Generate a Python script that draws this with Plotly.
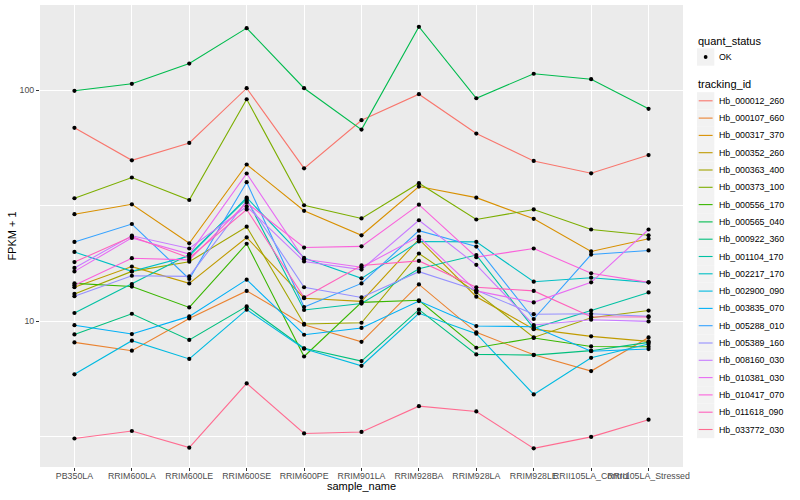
import plotly.graph_objects as go

categories = ["PB350LA", "RRIM600LA", "RRIM600LE", "RRIM600SE", "RRIM600PE",
              "RRIM901LA", "RRIM928BA", "RRIM928LA", "RRIM928LE",
              "RRII105LA_Control", "RRII105LA_Stressed"]

tracking_ids = ["Hb_000012_260", "Hb_000107_660", "Hb_000317_370", "Hb_000352_260",
                "Hb_000363_400", "Hb_000373_100", "Hb_000556_170", "Hb_000565_040",
                "Hb_000922_360", "Hb_001104_170", "Hb_002217_170", "Hb_002900_090",
                "Hb_003835_070", "Hb_005288_010", "Hb_005389_160", "Hb_008160_030",
                "Hb_010381_030", "Hb_010417_070", "Hb_011618_090", "Hb_033772_030"]

# FPKM + 1 per sample (same order as categories)
hb_000012_260 = [68.6, 49.6, 59.0, 101.8, 45.8, 74.0, 95.9, 64.8, 49.3, 43.6, 52.3]
hb_000107_660 = [8.08, 7.44, 10.26, 13.5, 9.64, 8.13, 14.4, 8.93, 7.14, 6.07, 8.49]
hb_000317_370 = [29.0, 32.0, 21.7, 47.6, 30.0, 23.5, 38.2, 34.2, 27.7, 20.0, 22.7]
hb_000352_260 = [14.0, 17.2, 14.55, 23.0, 12.55, 12.16, 22.6, 12.74, 9.22, 8.58, 8.16]
hb_000363_400 = [13.1, 16.4, 18.06, 25.6, 9.71, 9.83, 19.6, 13.3, 8.49, 10.33, 11.1]
hb_000373_100 = [34.0, 41.8, 33.4, 91.2, 31.7, 27.8, 39.5, 27.5, 30.4, 24.9, 23.5]
hb_000556_170 = [14.55, 14.1, 11.45, 21.6, 7.02, 12.04, 12.3, 7.66, 8.44, 7.76, 7.74]
hb_000565_040 = [99.2, 106.4, 130.2, 185.3, 101.8, 67.4, 187.8, 92.1, 117.6, 111.4, 82.9]
hb_000922_360 = [8.75, 10.75, 8.28, 11.57, 7.62, 6.71, 11.2, 7.17, 7.12, 7.44, 8.08]
hb_001104_170 = [10.83, 14.46, 19.4, 33.8, 11.16, 11.9, 16.85, 19.3, 9.29, 11.1, 13.3]
hb_002217_170 = [19.9, 16.4, 19.1, 34.2, 18.75, 15.3, 22.1, 22.0, 14.8, 15.4, 14.7]
hb_002900_090 = [5.88, 8.22, 6.85, 11.2, 7.59, 6.40, 10.8, 8.81, 4.81, 6.93, 7.95]
hb_003835_070 = [9.59, 8.78, 10.47, 15.1, 8.72, 9.33, 12.2, 9.51, 9.45, 7.40, 7.56]
hb_005288_010 = [22.0, 26.3, 15.2, 39.9, 11.5, 14.55, 24.6, 21.0, 10.2, 19.4, 20.2]
hb_005389_160 = [12.8, 15.7, 15.6, 33.2, 14.0, 12.65, 16.35, 13.6, 10.7, 10.75, 10.47]
hb_008160_030 = [16.97, 23.4, 20.6, 31.3, 18.1, 16.7, 27.3, 17.5, 9.61, 10.13, 9.96]
hb_010381_030 = [16.4, 22.9, 19.5, 43.5, 18.5, 17.1, 23.2, 13.5, 12.04, 14.7, 24.9]
hb_010417_070 = [14.3, 18.7, 18.4, 32.5, 20.8, 21.05, 31.9, 18.9, 20.6, 16.1, 14.7]
hb_011618_090 = [18.0, 23.2, 18.75, 30.4, 12.65, 17.4, 18.2, 14.0, 13.5, 10.44, 10.4]
hb_033772_030 = [3.10, 3.34, 2.83, 5.37, 3.26, 3.31, 4.28, 4.06, 2.81, 3.15, 3.74]

series = [hb_000012_260, hb_000107_660, hb_000317_370, hb_000352_260, hb_000363_400,
          hb_000373_100, hb_000556_170, hb_000565_040, hb_000922_360, hb_001104_170,
          hb_002217_170, hb_002900_090, hb_003835_070, hb_005288_010, hb_005389_160,
          hb_008160_030, hb_010381_030, hb_010417_070, hb_011618_090, hb_033772_030]

colors = ["#F8766D", "#EA8331", "#D89000", "#C09B00", "#A3A500", "#7CAE00", "#39B600",
          "#00BB4E", "#00BF7D", "#00C1A3", "#00BFC4", "#00BAE0", "#00B0F6", "#35A2FF",
          "#9590FF", "#C77CFF", "#E76BF3", "#FA62DB", "#FF62BC", "#FF6C91"]

quant_status = ["OK"]

y_ticks = [10, 100]
y_minor = [3.1623, 31.623]

FONT = "Liberation Sans, Arial, sans-serif"

# figure geometry (pixels)
W, H = 800, 500
ML, MR, MT, MB = 40, 117, 5, 33
PW, PH = W - ML - MR, H - MT - MB


def px(x):
    return (x - ML) / PW


def py(y):
    return (H - MB - y) / PH


fig = go.Figure()
for name, vals, col in zip(tracking_ids, series, colors):
    fig.add_trace(go.Scatter(
        x=categories, y=vals, mode="lines", name=name,
        line=dict(color=col, width=1.1), showlegend=False))

all_x, all_y = [], []
for vals in series:
    all_x += categories
    all_y += vals
fig.add_trace(go.Scatter(
    x=all_x, y=all_y, mode="markers", name="OK",
    marker=dict(color="black", size=4.2), showlegend=False))

# ---- ggplot-like legend drawn in paper coordinates ----
shapes, annotations = [], []
KX0, KW, KH = 697, 17.3, 17.3
TX = 717
STEP = 17.3


def key_box(cy):
    shapes.append(dict(type="rect", xref="paper", yref="paper",
                       x0=px(KX0), x1=px(KX0 + KW),
                       y0=py(cy + KH / 2), y1=py(cy - KH / 2),
                       fillcolor="#F2F2F2", line=dict(width=0), layer="above"))


def label(text, x, y, size, anchor="left"):
    annotations.append(dict(text=text, xref="paper", yref="paper",
                            x=px(x), y=py(y), xanchor=anchor, yanchor="middle",
                            showarrow=False, font=dict(size=size, color="black")))


label("quant_status", KX0 - 1, 40.7, 11)
for i, q in enumerate(quant_status):
    cy = 57.0 + i * STEP
    key_box(cy)
    r = 1.9
    shapes.append(dict(type="circle", xref="paper", yref="paper",
                       x0=px(KX0 + KW / 2 - r), x1=px(KX0 + KW / 2 + r),
                       y0=py(cy + r), y1=py(cy - r),
                       fillcolor="black", line=dict(width=0), layer="above"))
    label(q, TX, cy, 8.8)

label("tracking_id", KX0 - 1, 83.5, 11)
for i, (name, col) in enumerate(zip(tracking_ids, colors)):
    cy = 100.8 + i * STEP
    key_box(cy)
    shapes.append(dict(type="line", xref="paper", yref="paper",
                       x0=px(KX0 + 1.7), x1=px(KX0 + KW - 1.7),
                       y0=py(cy), y1=py(cy),
                       line=dict(color=col, width=1.1), layer="above"))
    label(name, TX, cy, 8.8)

# x-axis title placed like ggplot's
label("sample_name", ML + PW / 2, 486, 11, anchor="center")

fig.update_layout(
    width=W, height=H,
    margin=dict(l=ML, r=MR, t=MT, b=MB, autoexpand=False),
    plot_bgcolor="#EBEBEB", paper_bgcolor="white",
    font=dict(family=FONT, size=11, color="black"),
    showlegend=False,
    shapes=shapes, annotations=annotations,
    xaxis=dict(
        type="category", categoryorder="array", categoryarray=categories,
        range=[-0.6, len(categories) - 0.4],
        showgrid=True, gridcolor="white", gridwidth=1.1, zeroline=False,
        ticks="outside", ticklen=3, tickcolor="#333333", tickangle=0,
        ticklabelstandoff=-3,
        tickfont=dict(size=8.8, color="#4D4D4D")),
    yaxis=dict(
        type="log", range=[0.368, 2.368],
        tickvals=y_ticks, ticktext=[str(v) for v in y_ticks],
        showgrid=True, gridcolor="white", gridwidth=1.1, zeroline=False,
        ticks="outside", ticklen=3, tickcolor="#333333",
        tickfont=dict(size=8.8, color="#4D4D4D"),
        minor=dict(tickvals=y_minor, showgrid=True, gridcolor="white",
                   gridwidth=0.5, ticks=""),
        title=dict(text="FPKM + 1", font=dict(size=11), standoff=0)),
)

fig.write_html("out.html",
               config={"displayModeBar": False},
               post_script="document.body.style.margin='0px';"
                           "document.body.style.overflow='hidden';")
